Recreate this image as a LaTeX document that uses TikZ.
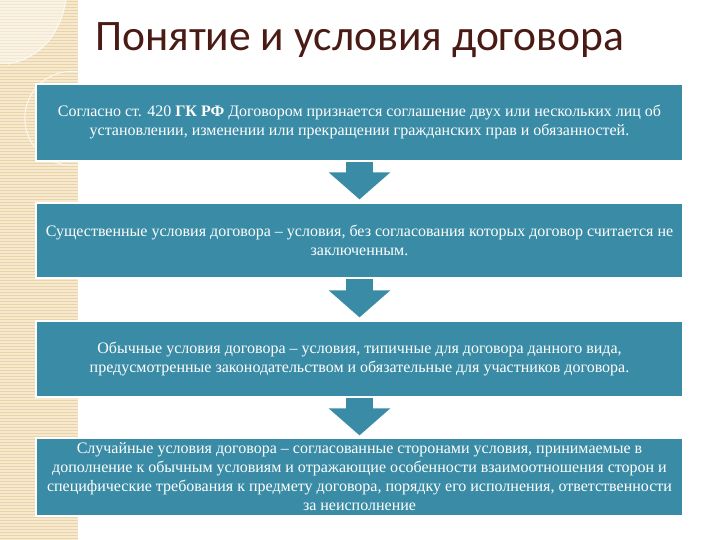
\documentclass[tikz,border=0pt]{standalone}
\usepackage{fontspec}
\setmainfont{Liberation Serif}
\newfontfamily\titlefont{Carlito}
\usetikzlibrary{arrows.meta}
\definecolor{boxteal}{HTML}{3A8CA6}
\definecolor{band}{HTML}{F6E9CF}
\definecolor{bandline}{HTML}{E9D4A8}
\definecolor{titlecol}{HTML}{4A1A14}
\begin{document}
\begin{tikzpicture}[x=1pt,y=-1pt,
  box/.style={fill=boxteal, draw=white, line width=1.2pt, minimum width=647pt,
    text=white, align=center, font=\fontsize{16}{19}\selectfont, inner sep=0pt},
  flow/.style={boxteal, line width=27pt, -{Triangle[width=60pt,length=27pt]}}]
\useasboundingbox (0,0) rectangle (720,540);
\fill[white] (0,0) rectangle (720,540);
% decorative band
\fill[band] (0,0) rectangle (78,540);
\foreach \y in {1.5,4.5,...,540} \draw[bandline, line width=0.8pt] (0,\y) -- (78,\y);
\fill[white, opacity=0.45] (0,0) -- (66,0) .. controls (60,35) and (40,58) .. (8,64) -- (0,64) -- cycle;
\draw[white!85!bandline, line width=1pt] (66,0) .. controls (60,35) and (40,58) .. (8,64);
\draw[white!80!bandline, line width=1pt] (0,64) -- (10,64);
\draw[white!80!bandline, line width=1pt] (80,72) arc[start angle=-80, end angle=-280, radius=47];
% title
\node[anchor=base west, font=\titlefont\fontsize{43.5}{50}\selectfont, text=titlecol, inner sep=0pt] (t) at (95,51) {Понятие и условия договора};
% boxes
\node[box, minimum height=77pt] (b1) at (359.5,122.5) {Согласно ст. 420 \textbf{ГК РФ} Договором признается соглашение двух или нескольких лиц об\\установлении, изменении или прекращении гражданских прав и обязанностей.};
\node[box, minimum height=75pt] (b2) at (359.5,240.5) {Существенные условия договора – условия, без согласования которых договор считается не\\заключенным.};
\node[box, minimum height=76pt] (b3) at (359.5,359) {Обычные условия договора – условия, типичные для договора данного вида,\\предусмотренные законодательством и обязательные для участников договора.};
\node[box, minimum height=78pt] (b4) at (359.5,477) {Случайные условия договора – согласованные сторонами условия, принимаемые в\\дополнение к обычным условиям и отражающие особенности взаимоотношения сторон и\\специфические требования к предмету договора, порядку его исполнения, ответственности\\за неисполнение};
% arrows
\draw[flow] (b1.south) -- ([yshift=3pt]b2.north);
\draw[flow] (b2.south) -- ([yshift=3pt]b3.north);
\draw[flow] (b3.south) -- ([yshift=2pt]b4.north);
\end{tikzpicture}
\end{document}
